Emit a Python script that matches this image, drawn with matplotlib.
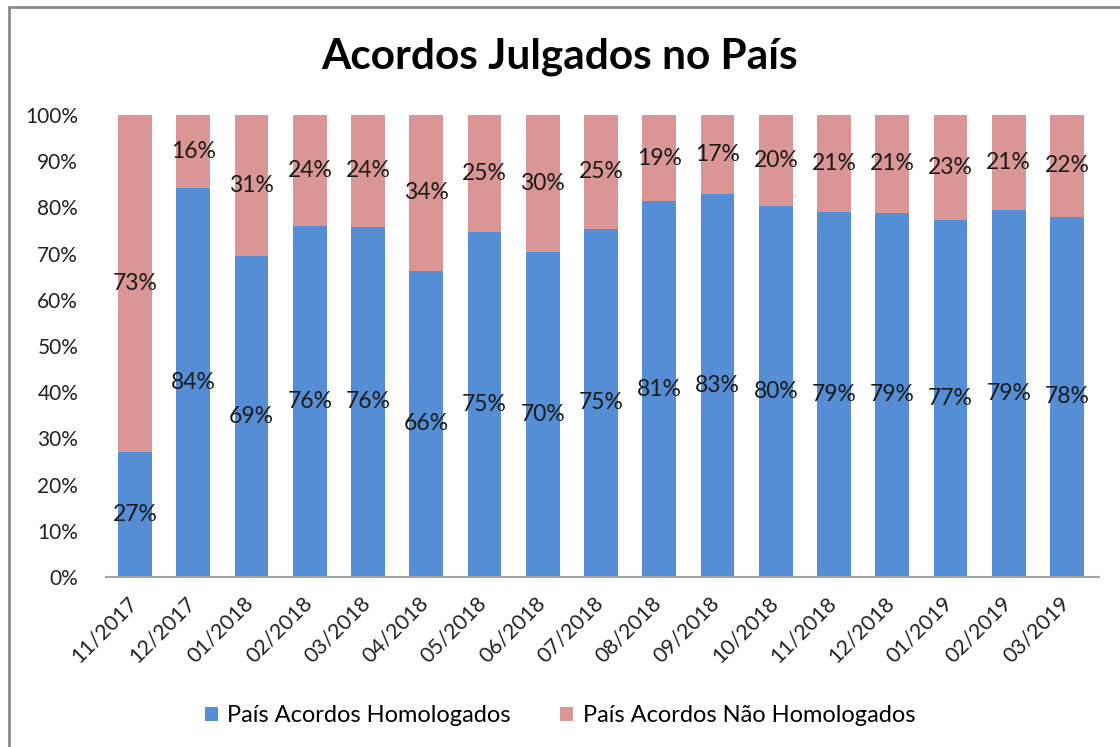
import matplotlib.pyplot as plt
from matplotlib.patches import Rectangle
from matplotlib.transforms import ScaledTranslation
import numpy as np

months = ["11/2017", "12/2017", "01/2018", "02/2018", "03/2018", "04/2018",
          "05/2018", "06/2018", "07/2018", "08/2018", "09/2018", "10/2018",
          "11/2018", "12/2018", "01/2019", "02/2019", "03/2019"]
homologados = [27.0, 84.2, 69.4, 76.0, 75.8, 66.3, 74.6, 70.3, 75.4, 81.3,
               83.0, 80.3, 79.0, 78.8, 77.3, 79.4, 78.0]
nao_homologados = [100 - v for v in homologados]

blue = "#558ED5"
red = "#D99694"
plt.rcParams["font.family"] = ["Lato", "DejaVu Sans"]

fig = plt.figure(figsize=(11.2, 7.47), dpi=100)
ax = fig.add_axes([106 / 1120, 170 / 747, (1099 - 106) / 1120, (577 - 115) / 747])

x = np.arange(len(months))
w = 0.58
ax.bar(x, homologados, w, color=blue, label="País Acordos Homologados")
ax.bar(x, nao_homologados, w, bottom=homologados, color=red,
       label="País Acordos Não Homologados")

for i in range(len(months)):
    h = homologados[i]
    n = nao_homologados[i]
    ax.text(x[i], h / 2, f"{round(h)}%", ha="center", va="center",
            fontsize=16.5, color="#1a1a1a")
    ax.text(x[i], h + n / 2, f"{round(n)}%", ha="center", va="center",
            fontsize=16.5, color="#1a1a1a")

ax.set_xlim(-0.5, len(months) - 0.5 + 0.05)
ax.set_ylim(0, 100)
ax.set_yticks(range(0, 101, 10))
ax.set_yticklabels([f"{v}%" for v in range(0, 101, 10)], fontsize=15, color="#222222")
ax.set_xticks(x)
ax.set_xticklabels(months, rotation=45, ha="right", rotation_mode="anchor",
                   fontsize=15.5, color="#222222")
ax.tick_params(axis="y", length=0, pad=20)
ax.tick_params(axis="x", length=0, pad=8)
shift = ScaledTranslation(-8 / 100, -5 / 100, fig.dpi_scale_trans)
for lab in ax.get_xticklabels():
    lab.set_transform(lab.get_transform() + shift)
for s in ["top", "right", "left"]:
    ax.spines[s].set_visible(False)
ax.spines["bottom"].set_color("#a6a6a6")
ax.spines["bottom"].set_linewidth(1.5)

fig.text(0.5, 1 - 57 / 747, "Acordos Julgados no País", ha="center", va="center",
         fontsize=30.5, fontweight="bold")

fig.legend(loc="center", bbox_to_anchor=(0.5, 1 - 716 / 747), ncol=2,
           frameon=False, fontsize=17, handlelength=0.55, handleheight=0.55,
           columnspacing=2.1, handletextpad=0.4)

fig.patches.append(Rectangle((9 / 1120, -0.05), 1.2, 1 - 7 / 747 + 0.05,
                             transform=fig.transFigure, fill=False,
                             edgecolor="#8c8c8c", linewidth=2))

fig.savefig("out.png", dpi=100)
